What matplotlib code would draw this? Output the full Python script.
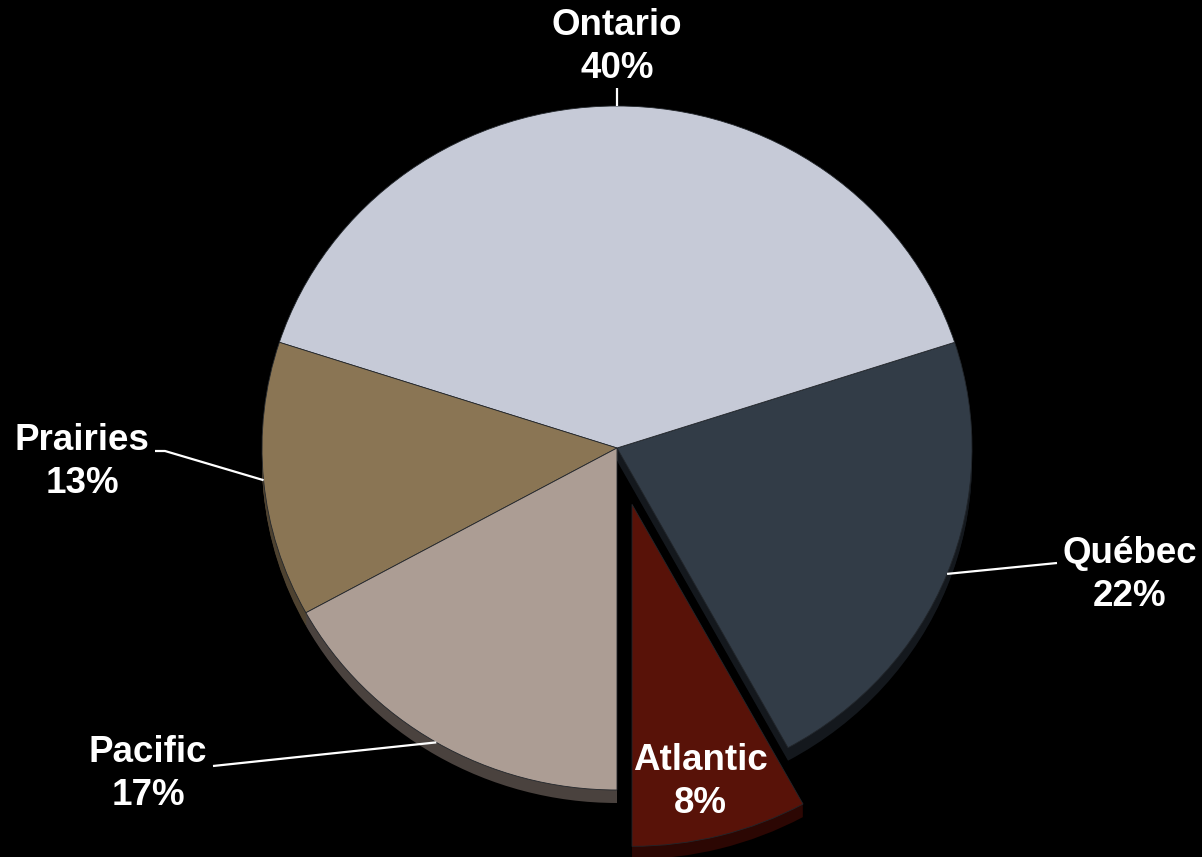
import numpy as np
import matplotlib.pyplot as plt

# data, counter-clockwise from the bottom (270 deg)
regions = ['Atlantic', 'Québec', 'Ontario', 'Prairies', 'Pacific']
shares = [8, 22, 40, 13, 17]
pull_out = [0.17, 0, 0, 0, 0]   # fraction of the radius

top_colors = ['#581208', '#323c47', '#c6cad7', '#8a7554', '#ac9d94']
side_colors = ['#2c0703', '#14181d', '#7d8089', '#4e4230', '#4a423e']

W, H = 1202, 857
k = 342 / 355          # vertical squash of the tilted pie
R = 355
depth = 13
explode = [p * R for p in pull_out]


def yd(ypx):
    # pixel row -> data y
    return (H - ypx) / k


cx, cy = 617, yd(448)

fig = plt.figure(figsize=(W / 100, H / 100), dpi=100, facecolor='black')
ax = fig.add_axes([0, 0, 1, 1])
ax.set_facecolor('black')

# side walls: stacked copies shifted downwards
side_sets = []
for d in range(depth, 0, -1):
    ws, _ = ax.pie(shares, explode=explode, colors=side_colors, startangle=270,
                   radius=R, center=(cx, cy - d / k), frame=True,
                   wedgeprops=dict(linewidth=0))
    side_sets.append(ws)

tops, _ = ax.pie(shares, explode=explode, colors=top_colors, startangle=270,
                 radius=R, center=(cx, cy), frame=True,
                 wedgeprops=dict(linewidth=0.6, edgecolor='#22262b'))

for ws in side_sets:
    for i, w in enumerate(ws):
        w.set_zorder(3 if explode[i] else 1)
for i, w in enumerate(tops):
    w.set_zorder(4 if explode[i] else 2)

# labels (pixel layout) and leader line ends
label_pos = {
    'Ontario': (617, 47),
    'Québec': (1130, 575),
    'Prairies': (82, 462),
    'Pacific': (148, 774),
    'Atlantic': (700, 782),
}
leader_end = {
    'Ontario': [(None, 88)],
    'Québec': [(1057, 563)],
    'Prairies': [(165, 451), (155, 451)],
    'Pacific': [(213, 766)],
}

for i, name in enumerate(regions):
    w = tops[i]
    x, y = label_pos[name]
    ax.text(x, yd(y), f'{name}\n{shares[i]}%', color='white', fontsize=26.5,
            fontweight='bold', family=['Liberation Sans', 'DejaVu Sans'],
            ha='center', va='center', linespacing=1.3, zorder=6)
    if name in leader_end:
        mid = np.deg2rad((w.theta1 + w.theta2) / 2)
        rx = w.center[0] + R * np.cos(mid)
        ry = w.center[1] + R * np.sin(mid)
        xs = [rx] + [rx if p[0] is None else p[0] for p in leader_end[name]]
        ys = [ry] + [yd(p[1]) for p in leader_end[name]]
        ax.plot(xs, ys, color='white', lw=1.6, zorder=5,
                solid_capstyle='butt')

ax.set_xlim(0, W)
ax.set_ylim(0, H / k)
ax.set_aspect('auto')
ax.axis('off')

fig.savefig('out.png', dpi=100, facecolor='black')
